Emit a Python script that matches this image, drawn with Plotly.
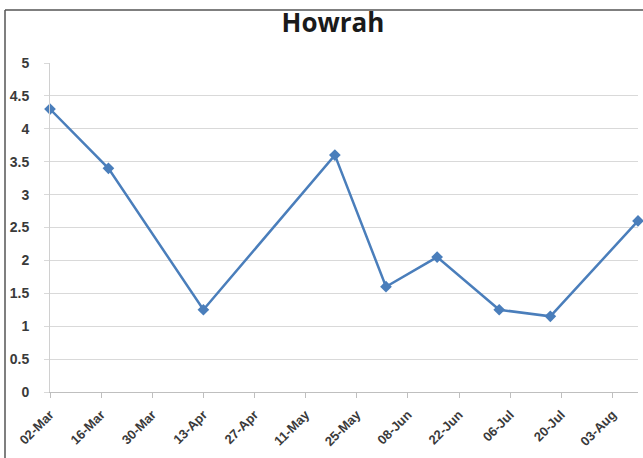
import plotly.graph_objects as go

# Weekly sample dates and readings for Howrah
dates = ["2020-03-02", "2020-03-18", "2020-04-13", "2020-05-19", "2020-06-02",
         "2020-06-16", "2020-07-03", "2020-07-17", "2020-08-10"]
values = [4.3, 3.4, 1.25, 3.6, 1.6, 2.05, 1.25, 1.15, 2.6]

# Fortnightly tick dates on the x axis
tick_dates = ["2020-03-02", "2020-03-16", "2020-03-30", "2020-04-13", "2020-04-27",
              "2020-05-11", "2020-05-25", "2020-06-08", "2020-06-22", "2020-07-06",
              "2020-07-20", "2020-08-03"]
y_ticks = [0, 0.5, 1, 1.5, 2, 2.5, 3, 3.5, 4, 4.5, 5]

line_color = "#4a7ebb"
grid_color = "#d9d9d9"
label_color = "#3a3a3a"

fig = go.Figure()
fig.add_trace(go.Scatter(
    x=dates, y=values, mode="lines+markers",
    line=dict(color=line_color, width=2.5),
    marker=dict(symbol="diamond", size=9, color=line_color),
    cliponaxis=False, showlegend=False,
))

fig.update_layout(
    width=643, height=458,
    margin=dict(l=50, r=5, t=63, b=66),
    paper_bgcolor="white", plot_bgcolor="white",
    title=dict(text="<b>Howrah</b>", x=333 / 643, xanchor="center",
               y=1 - 23 / 458, yanchor="middle",
               font=dict(family="Open Sans", size=26, color="#1a1a1a")),
    xaxis=dict(
        type="date", range=["2020-03-02", "2020-08-10"],
        tickvals=tick_dates, tickformat="%d-%b", tickangle=-45,
        showgrid=False, zeroline=False,
        showline=True, linecolor="#bfbfbf", linewidth=1,
        ticks="outside", ticklen=5, tickcolor="#bfbfbf",
        ticklabelstandoff=4,
        tickfont=dict(family="Liberation Sans", size=13, color=label_color, weight="bold"),
    ),
    yaxis=dict(
        range=[0, 5], tickvals=y_ticks,
        showgrid=True, gridcolor=grid_color, gridwidth=1.3,
        zeroline=False, showline=True, linecolor="#d0d0d0", linewidth=1,
        ticks="outside", ticklen=5, tickcolor=grid_color,
        ticklabelstandoff=12,
        tickfont=dict(family="Liberation Sans", size=14, color=label_color, weight="bold"),
    ),
)

# Chart frame (left and top edges)
fig.add_shape(type="line", xref="paper", yref="paper",
              x0=-45 / 588, x1=-45 / 588, y0=-1, y1=(392 - 10) / 329,
              line=dict(color="#555555", width=1.5))
fig.add_shape(type="line", xref="paper", yref="paper",
              x0=-45 / 588, x1=1.2, y0=(392 - 10) / 329, y1=(392 - 10) / 329,
              line=dict(color="#555555", width=1.5))

fig.write_html("out.html")
